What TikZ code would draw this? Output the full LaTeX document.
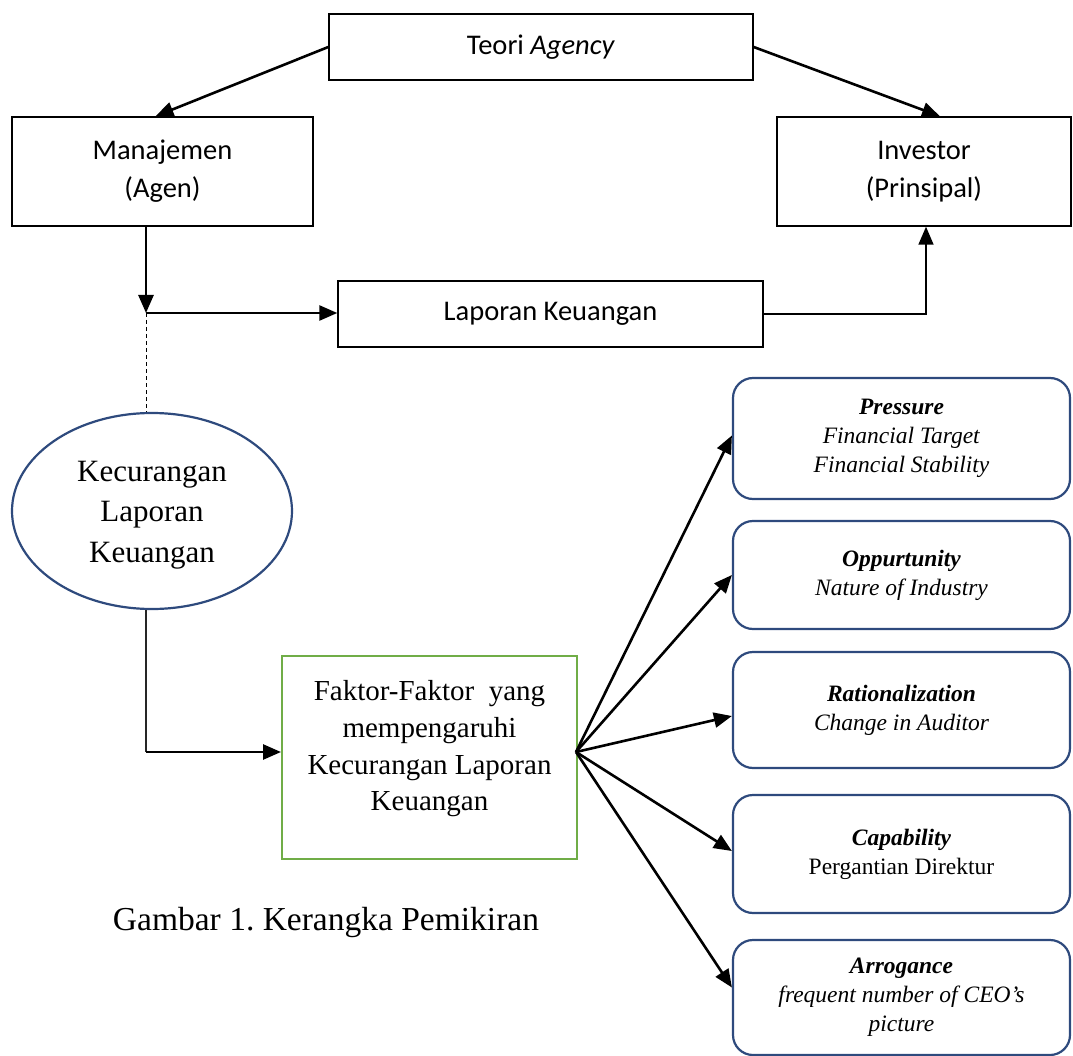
\documentclass[tikz,border=0pt]{standalone}
\usepackage{fontspec}
\setmainfont{Liberation Serif}
\newfontfamily\calibrifont{Carlito}
\usetikzlibrary{arrows.meta,shapes.geometric}
\definecolor{navy}{HTML}{2E4A7D}
\definecolor{leafgreen}{HTML}{70AD47}
\tikzset{
  topbox/.style={draw=black,line width=1.4pt,rectangle,inner sep=0pt,align=center,
    font=\calibrifont\fontsize{28.5}{38}\selectfont},
  factorbox/.style={draw=navy,line width=2.2pt,rounded corners=20pt,rectangle,inner sep=0pt,
    align=center,minimum width=337pt,font=\fontsize{23.5}{29}\selectfont},
  arr/.style={line width=2.6pt,-{Triangle[length=18pt,width=15pt]}},
}
\begin{document}
\begin{tikzpicture}[x=1pt,y=-1pt]
\useasboundingbox (0,0) rectangle (1073,1056);
% top part
\node[topbox,minimum width=424pt,minimum height=66pt] (teori) at (541,47) {Teori \textit{Agency}};
\node[topbox,minimum width=301pt,minimum height=109pt] (man) at (162.5,171.5) {Manajemen\\(Agen)};
\node[topbox,minimum width=294pt,minimum height=109pt] (inv) at (924,171.5) {Investor\\(Prinsipal)};
\node[topbox,minimum width=425pt,minimum height=66pt] (lap) at (550.5,314) {Laporan Keuangan};
\coordinate (j) at (146,313);
\draw[arr] (teori.west) -- ([xshift=-7pt]man.north);
\draw[arr] (teori.east) -- ([xshift=16pt]inv.north);
\draw[arr] (j |- man.south) -- (j);
\draw[arr] (j) -- (j -| lap.west);
\draw[line width=1.6pt,-{Triangle[length=18pt,width=15pt]}] (lap.east) -| ([xshift=2pt]inv.south);
% ellipse
\node[draw=navy,line width=2.2pt,ellipse,minimum width=280pt,minimum height=196pt,inner sep=0pt] (ell) at (152,511) {};
\node[align=center,font=\fontsize{31}{40.5}\selectfont,inner sep=0pt] (elltxt) at (152,515) {Kecurangan\\Laporan\\Keuangan};
\draw[dashed,line width=1pt,dash pattern=on 4pt off 3pt] (j) -- (j |- ell.north);
% factors box
\node[draw=leafgreen,line width=2pt,rectangle,minimum width=295pt,minimum height=203pt,inner sep=0pt] (fak) at (429.5,757.5) {};
\node[align=center,font=\fontsize{29}{36.7}\selectfont,inner sep=0pt] (faktxt) at (429.5,749) {Faktor-Faktor\ \ yang\\mempengaruhi\\Kecurangan Laporan\\Keuangan};
\coordinate (k) at (146,752);
\draw[line width=1.2pt,draw=black!85] (j |- ell.south) -- (k);
\draw[arr] (k) -- (k -| fak.west);
% right boxes
\node[factorbox,minimum height=121pt] (p1) at (901.5,438.5) {\textbf{\textit{Pressure}}\\\textit{Financial Target}\\\textit{Financial Stability}};
\node[factorbox,minimum height=108pt] (p2) at (901.5,575) {\textbf{\textit{Oppurtunity}}\\\textit{Nature of Industry}};
\node[factorbox,minimum height=116pt] (p3) at (901.5,710) {\textbf{\textit{Rationalization}}\\\textit{Change in Auditor}};
\node[factorbox,minimum height=118pt] (p4) at (901.5,854) {\textbf{\textit{Capability}}\\Pergantian Direktur};
\node[factorbox,minimum height=115pt] (p5) at (901.5,997.5) {\textbf{\textit{Arrogance}}\\\textit{frequent number of CEO’s}\\\textit{picture}};
\coordinate (fo) at (576,752);
\draw[arr] (fo) -- ([yshift=3pt]p1.west);
\draw[arr] (fo) -- (p2.west);
\draw[arr] (fo) -- ([yshift=-6pt]p3.west);
\draw[arr] (fo) -- ([yshift=3pt]p4.west);
\draw[arr] (fo) -- ([yshift=10pt]p5.west);
% caption
\node[font=\fontsize{33.5}{40}\selectfont,inner sep=0pt] (cap) at (326,922) {Gambar 1.\ Kerangka Pemikiran};
\end{tikzpicture}
\end{document}
